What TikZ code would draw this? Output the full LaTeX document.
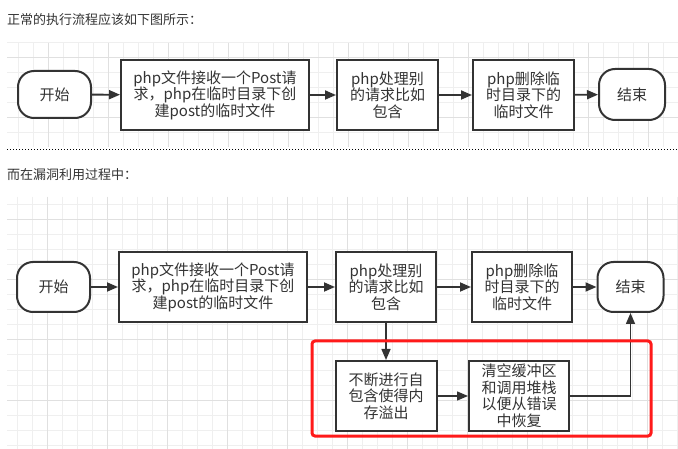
\documentclass[tikz,border=0pt]{standalone}
\usepackage{fontspec}
\setmainfont{Noto Sans CJK SC}
\usetikzlibrary{arrows.meta}
\definecolor{ink}{HTML}{333333}
\definecolor{gridminor}{HTML}{EFEFEF}
\definecolor{gridmajor}{HTML}{E0E0E0}
\definecolor{redframe}{HTML}{FF1A1A}
\tikzset{
  procbox/.style={draw=ink, line width=2pt, fill=white, text=ink, align=center,
    font=\fontsize{15}{16.5}\selectfont, inner sep=0pt, minimum height=70pt},
  termbox/.style={draw=ink, line width=2pt, fill=white, text=ink, rounded corners=16pt,
    font=\fontsize{15}{16.5}\selectfont, inner sep=0pt},
  flow/.style={draw=ink, line width=1.8pt, -{Triangle[length=11pt,width=9pt]}},
  titletext/.style={anchor=west, text=ink, font=\fontsize{13}{15}\selectfont, inner sep=0pt},
}
\begin{document}
\begin{tikzpicture}[x=1pt,y=-1pt]
\useasboundingbox (0,0) rectangle (678,449);
\fill[white] (0,0) rectangle (678,449);
% grids
\begin{scope}[line width=1pt]
  \foreach \x in {18,33,...,678} \draw[gridminor] (\x,43) -- (\x,147);
  \foreach \y in {43,58,...,147} \draw[gridminor] (7,\y) -- (678,\y);
  \foreach \x in {48,108,...,678} \draw[gridmajor] (\x,43) -- (\x,147);
  \foreach \y in {58,118} \draw[gridmajor] (7,\y) -- (678,\y);
  \foreach \x in {17,32,...,678} \draw[gridminor] (\x,197) -- (\x,449);
  \foreach \y in {205,220,...,449} \draw[gridminor] (7,\y) -- (678,\y);
  \foreach \x in {47,107,...,678} \draw[gridmajor] (\x,197) -- (\x,449);
  \foreach \y in {220,280,...,449} \draw[gridmajor] (7,\y) -- (678,\y);
\end{scope}
% titles
\node[titletext] (t1) at (7,19.5) {正常的执行流程应该如下图所示：};
\node[titletext] (t2) at (7,175) {而在漏洞利用过程中：};
% dotted separator
\coordinate (d1) at (7,150);
\coordinate (d2) at (678,150);
\draw[black, line width=1pt, dotted] (d1) -- (d2);
% top row
\node[termbox, minimum width=73pt, minimum height=47pt] (s1) at (54.5,94.5) {开始};
\node[procbox, minimum width=188pt] (a1) at (215,95) {php文件接收一个Post请\\求，php在临时目录下创\\建post的临时文件};
\node[procbox, minimum width=101pt] (a2) at (387.5,95) {php处理别\\的请求比如\\包含};
\node[procbox, minimum width=101pt] (a3) at (523.5,95) {php删除临\\时目录下的\\临时文件};
\node[termbox, minimum width=66pt, minimum height=51pt] (e1) at (632,94.5) {结束};
\draw[flow] (s1) -- (a1);
\draw[flow] (a1) -- (a2);
\draw[flow] (a2) -- (a3);
\draw[flow] (a3) -- (e1);
% bottom row
\node[termbox, minimum width=73pt, minimum height=50pt] (s2) at (53.5,287) {开始};
\node[procbox, minimum width=188pt] (b1) at (213,287) {php文件接收一个Post请\\求，php在临时目录下创\\建post的临时文件};
\node[procbox, minimum width=100pt] (b2) at (386,287) {php处理别\\的请求比如\\包含};
\node[procbox, minimum width=100pt] (b3) at (522,287) {php删除临\\时目录下的\\临时文件};
\node[termbox, minimum width=66pt, minimum height=50pt] (e2) at (630.5,287) {结束};
\node[procbox, minimum width=101pt] (b4) at (386,396) {不断进行自\\包含使得内\\存溢出};
\node[procbox, minimum width=100pt] (b5) at (519,396) {清空缓冲区\\和调用堆栈\\以便从错误\\中恢复};
\draw[flow] (s2) -- (b1);
\draw[flow] (b1) -- (b2);
\draw[flow] (b2) -- (b3);
\draw[flow] (b3) -- (e2);
\draw[flow, line width=1.5pt] (b2) -- (b4);
\draw[flow, line width=1.5pt] (b4) -- (b5);
\draw[flow, line width=1.5pt] (b5.east) -| (e2.south);
% red frame
\node[draw=redframe, line width=3pt, rounded corners=3pt, minimum width=339pt, minimum height=95pt, inner sep=0pt] (rf) at (481.5,388.5) {};
\end{tikzpicture}
\end{document}
